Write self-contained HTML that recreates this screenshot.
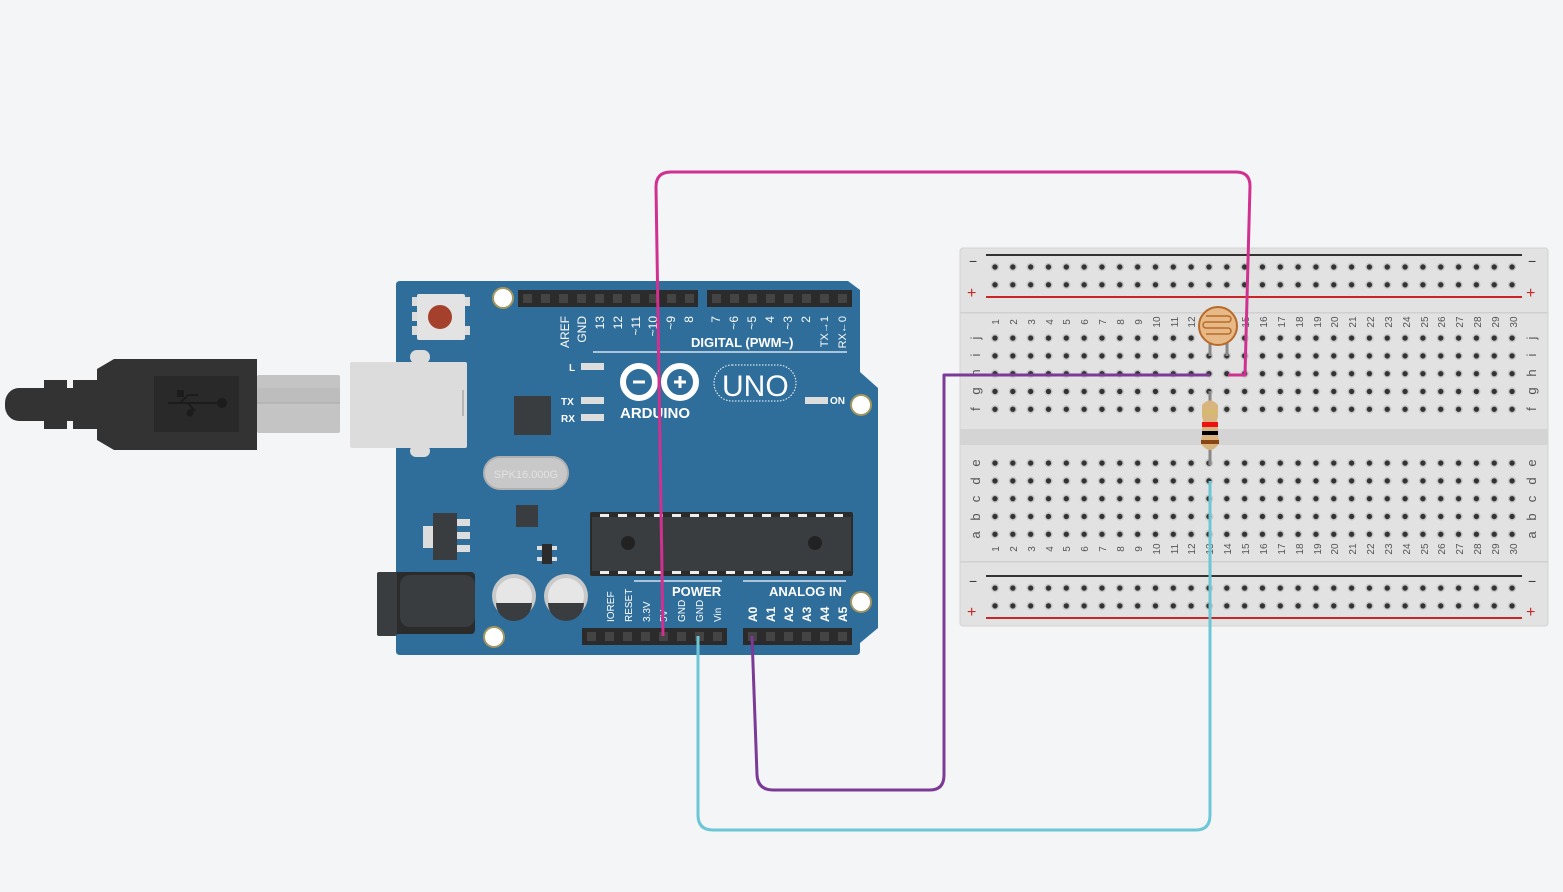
<!DOCTYPE html>
<html><head><meta charset="utf-8"><style>
html,body{margin:0;padding:0;background:#f4f5f7;}
svg{display:block;font-family:"Liberation Sans",sans-serif;}
</style></head><body>
<svg width="1563" height="892" viewBox="0 0 1563 892" xmlns="http://www.w3.org/2000/svg">
<defs>
<pattern id="h2" x="986.1" y="258.1" width="17.83" height="17.8" patternUnits="userSpaceOnUse"><circle cx="8.9" cy="8.9" r="4.2" fill="#c9c9c9"/><circle cx="8.9" cy="8.9" r="2.7" fill="#333"/></pattern>
<pattern id="h3" x="986.1" y="329.2" width="17.83" height="17.8" patternUnits="userSpaceOnUse"><circle cx="8.9" cy="8.9" r="4.2" fill="#c9c9c9"/><circle cx="8.9" cy="8.9" r="2.7" fill="#333"/></pattern>
<pattern id="h4" x="986.1" y="454.2" width="17.83" height="17.8" patternUnits="userSpaceOnUse"><circle cx="8.9" cy="8.9" r="4.2" fill="#c9c9c9"/><circle cx="8.9" cy="8.9" r="2.7" fill="#333"/></pattern>
<pattern id="h5" x="986.1" y="579.2" width="17.83" height="17.8" patternUnits="userSpaceOnUse"><circle cx="8.9" cy="8.9" r="4.2" fill="#c9c9c9"/><circle cx="8.9" cy="8.9" r="2.7" fill="#333"/></pattern>
</defs>
<rect width="1563" height="892" fill="#f4f5f7"/>

<!-- USB cable -->
<rect x="257" y="375" width="83" height="58" rx="2" fill="#c4c4c4"/>
<rect x="257" y="388" width="83" height="15" fill="#bdbdbd"/>
<line x1="257" y1="403" x2="340" y2="403" stroke="#aaa" stroke-width="1"/>
<path d="M5 403 a14 15 0 0 1 14 -15 h25 v-8 h23 v8 h6 v-8 h24 v-11 l17 -10 h143 v91 h-143 l-17 -10 v-11 h-24 v-8 h-6 v8 h-23 v-8 h-25 a14 15 0 0 1 -14 -16z" fill="#333"/>
<rect x="154" y="376" width="85" height="56" fill="#292929"/>
<g stroke="#1c1c1c" stroke-width="2" fill="none"><line x1="168" y1="403" x2="222" y2="403"/><path d="M180 403 l8 -8 h10"/><path d="M188 403 l6 7 h-4"/></g>
<circle cx="222" cy="403" r="5" fill="#1c1c1c"/><rect x="177" y="390" width="7" height="7" fill="#1c1c1c"/><circle cx="190" cy="413" r="3.5" fill="#1c1c1c"/>

<!-- Arduino board -->
<path d="M400 281 H848 L860 290 V372 L878 388 V628 L860 643 V651 Q860 655 856 655 H400 Q396 655 396 651 V285 Q396 281 400 281Z" fill="#2f6d9b"/>
<rect x="350" y="362" width="117" height="86" rx="2" fill="#dcdcdc"/>
<rect x="410" y="350" width="20" height="14" rx="7" fill="#dcdcdc"/><rect x="410" y="445" width="20" height="12" rx="6" fill="#dcdcdc"/>
<line x1="463" y1="390" x2="463" y2="416" stroke="#aaa" stroke-width="1.5"/>
<rect x="417" y="294" width="48" height="46" rx="2" fill="#e3e3e3"/>
<rect x="412" y="297" width="5" height="9" fill="#dcdcdc"/><rect x="412" y="312" width="5" height="9" fill="#dcdcdc"/><rect x="412" y="326" width="5" height="9" fill="#dcdcdc"/>
<rect x="465" y="297" width="5" height="9" fill="#dcdcdc"/><rect x="465" y="326" width="5" height="9" fill="#dcdcdc"/>
<circle cx="440" cy="317" r="12" fill="#a4402b"/>
<g fill="#fff" stroke="#a49660" stroke-width="2"><circle cx="503" cy="298" r="10"/><circle cx="861" cy="405" r="10"/><circle cx="861" cy="602" r="10"/><circle cx="494" cy="637" r="10"/></g>
<g fill="#2b2b2b"><rect x="518" y="290" width="180" height="17"/><rect x="707" y="290" width="145" height="17"/><rect x="582" y="628" width="145" height="17"/><rect x="743" y="628" width="109" height="17"/></g>
<g fill="#444">
<rect x="523" y="294" width="9" height="9"/><rect x="541" y="294" width="9" height="9"/><rect x="559" y="294" width="9" height="9"/><rect x="577" y="294" width="9" height="9"/><rect x="595" y="294" width="9" height="9"/><rect x="613" y="294" width="9" height="9"/><rect x="631" y="294" width="9" height="9"/><rect x="649" y="294" width="9" height="9"/><rect x="667" y="294" width="9" height="9"/><rect x="685" y="294" width="9" height="9"/>
<rect x="712" y="294" width="9" height="9"/><rect x="730" y="294" width="9" height="9"/><rect x="748" y="294" width="9" height="9"/><rect x="766" y="294" width="9" height="9"/><rect x="784" y="294" width="9" height="9"/><rect x="802" y="294" width="9" height="9"/><rect x="820" y="294" width="9" height="9"/><rect x="838" y="294" width="9" height="9"/>
<rect x="587" y="632" width="9" height="9"/><rect x="605" y="632" width="9" height="9"/><rect x="623" y="632" width="9" height="9"/><rect x="641" y="632" width="9" height="9"/><rect x="659" y="632" width="9" height="9"/><rect x="677" y="632" width="9" height="9"/><rect x="695" y="632" width="9" height="9"/><rect x="713" y="632" width="9" height="9"/>
<rect x="748" y="632" width="9" height="9"/><rect x="766" y="632" width="9" height="9"/><rect x="784" y="632" width="9" height="9"/><rect x="802" y="632" width="9" height="9"/><rect x="820" y="632" width="9" height="9"/><rect x="838" y="632" width="9" height="9"/>
</g>
<g fill="#fff" font-size="12" text-anchor="end">
<text transform="translate(569,316) rotate(-90)">AREF</text><text transform="translate(586,316) rotate(-90)">GND</text><text transform="translate(604,316) rotate(-90)">13</text><text transform="translate(622,316) rotate(-90)">12</text><text transform="translate(640,316) rotate(-90)">~11</text><text transform="translate(657,316) rotate(-90)">~10</text><text transform="translate(675,316) rotate(-90)">~9</text><text transform="translate(693,316) rotate(-90)">8</text>
<text transform="translate(720,316) rotate(-90)">7</text><text transform="translate(738,316) rotate(-90)">~6</text><text transform="translate(756,316) rotate(-90)">~5</text><text transform="translate(774,316) rotate(-90)">4</text><text transform="translate(792,316) rotate(-90)">~3</text><text transform="translate(810,316) rotate(-90)">2</text><text transform="translate(828,316) rotate(-90)" font-size="11">TX→1</text><text transform="translate(846,316) rotate(-90)" font-size="11">RX←0</text>
</g>
<g fill="#fff" font-size="10">
<text transform="translate(614,622) rotate(-90)">IOREF</text><text transform="translate(632,622) rotate(-90)">RESET</text><text transform="translate(650,622) rotate(-90)">3.3V</text><text transform="translate(667,622) rotate(-90)">5V</text><text transform="translate(685,622) rotate(-90)">GND</text><text transform="translate(703,622) rotate(-90)">GND</text><text transform="translate(721,622) rotate(-90)">Vin</text>
</g>
<g fill="#fff" font-size="12" font-weight="bold">
<text transform="translate(757,622) rotate(-90)">A0</text><text transform="translate(775,622) rotate(-90)">A1</text><text transform="translate(793,622) rotate(-90)">A2</text><text transform="translate(811,622) rotate(-90)">A3</text><text transform="translate(829,622) rotate(-90)">A4</text><text transform="translate(847,622) rotate(-90)">A5</text>
</g>
<g fill="#fff" font-weight="bold" font-size="13">
<text x="691" y="347">DIGITAL (PWM~)</text>
<text x="672" y="596">POWER</text>
<text x="769" y="596">ANALOG IN</text>
<text x="620" y="418" font-size="15">ARDUINO</text>
</g>
<g stroke="#fff" stroke-width="1.5" opacity="0.8"><line x1="593" y1="352" x2="847" y2="352"/><line x1="634" y1="581" x2="722" y2="581"/><line x1="743" y1="581" x2="846" y2="581"/></g>
<g fill="none" stroke="#fff" stroke-width="6"><circle cx="639" cy="382" r="16"/><circle cx="680" cy="382" r="16"/></g>
<g stroke="#fff" stroke-width="3"><line x1="633" y1="382" x2="645" y2="382"/><line x1="674" y1="382" x2="686" y2="382"/><line x1="680" y1="376" x2="680" y2="388"/></g>
<rect x="714" y="365" width="82" height="36" rx="18" fill="none" stroke="#fff" stroke-width="1" stroke-dasharray="1.5 1.5"/>
<text x="722" y="396" fill="#fff" font-size="30">UNO</text>
<g><rect x="581" y="363" width="23" height="7" fill="#ddd"/><rect x="581" y="397" width="23" height="7" fill="#ddd"/><rect x="581" y="414" width="23" height="7" fill="#ddd"/><rect x="805" y="397" width="23" height="7" fill="#ddd"/></g>
<g fill="#fff" font-size="10" font-weight="bold"><text x="569" y="371">L</text><text x="561" y="405">TX</text><text x="561" y="422">RX</text><text x="830" y="404">ON</text></g>
<rect x="514" y="396" width="37" height="39" fill="#3a3d40"/>
<rect x="484" y="457" width="84" height="32" rx="16" fill="#c8c8c8" stroke="#b0b0b0" stroke-width="2"/>
<text x="526" y="478" fill="#e2e2e2" font-size="11" text-anchor="middle">SPK16.000G</text>
<rect x="516" y="505" width="22" height="22" fill="#3a3d40"/>
<rect x="590" y="512" width="263" height="64" rx="2" fill="#2b2b2b"/>
<rect x="592" y="517" width="259" height="54" fill="#3a3d40"/>
<circle cx="628" cy="543" r="7" fill="#222"/><circle cx="815" cy="543" r="7" fill="#222"/>
<g fill="#eee">
<rect x="600" y="514" width="9" height="3"/><rect x="618" y="514" width="9" height="3"/><rect x="636" y="514" width="9" height="3"/><rect x="654" y="514" width="9" height="3"/><rect x="672" y="514" width="9" height="3"/><rect x="690" y="514" width="9" height="3"/><rect x="708" y="514" width="9" height="3"/><rect x="726" y="514" width="9" height="3"/><rect x="744" y="514" width="9" height="3"/><rect x="762" y="514" width="9" height="3"/><rect x="780" y="514" width="9" height="3"/><rect x="798" y="514" width="9" height="3"/><rect x="816" y="514" width="9" height="3"/><rect x="834" y="514" width="9" height="3"/>
<rect x="600" y="571" width="9" height="3"/><rect x="618" y="571" width="9" height="3"/><rect x="636" y="571" width="9" height="3"/><rect x="654" y="571" width="9" height="3"/><rect x="672" y="571" width="9" height="3"/><rect x="690" y="571" width="9" height="3"/><rect x="708" y="571" width="9" height="3"/><rect x="726" y="571" width="9" height="3"/><rect x="744" y="571" width="9" height="3"/><rect x="762" y="571" width="9" height="3"/><rect x="780" y="571" width="9" height="3"/><rect x="798" y="571" width="9" height="3"/><rect x="816" y="571" width="9" height="3"/><rect x="834" y="571" width="9" height="3"/>
</g>
<rect x="423" y="526" width="12" height="22" fill="#ddd"/>
<rect x="433" y="513" width="24" height="47" fill="#3a3d40"/>
<g fill="#ddd"><rect x="457" y="519" width="13" height="7"/><rect x="457" y="532" width="13" height="7"/><rect x="457" y="545" width="13" height="7"/></g>
<rect x="542" y="544" width="10" height="20" fill="#2b2b2b"/>
<g fill="#ddd"><rect x="537" y="546" width="5" height="4"/><rect x="537" y="557" width="5" height="4"/><rect x="552" y="546" width="5" height="4"/><rect x="552" y="557" width="5" height="4"/></g>
<g><circle cx="514" cy="596" r="22" fill="#c9c9c9"/><circle cx="514" cy="596" r="18" fill="#e6e6e6"/><path d="M496 603 h36 a18 18 0 0 1 -36 0z" fill="#3a3d40"/>
<circle cx="566" cy="596" r="22" fill="#c9c9c9"/><circle cx="566" cy="596" r="18" fill="#e6e6e6"/><path d="M548 603 h36 a18 18 0 0 1 -36 0z" fill="#3a3d40"/></g>
<rect x="377" y="572" width="98" height="62" rx="4" fill="#2b2b2b"/>
<rect x="400" y="575" width="75" height="52" rx="10" fill="#3a3d40"/>
<rect x="377" y="572" width="20" height="64" rx="2" fill="#3a3d40"/>

<!-- Breadboard -->
<rect x="960" y="248" width="588" height="378" rx="3" fill="#e2e2e2" stroke="#d3d3d3"/>
<rect x="960" y="312" width="588" height="1.5" fill="#d0d0d0"/>
<rect x="960" y="561" width="588" height="1.5" fill="#d0d0d0"/>
<rect x="960" y="429" width="588" height="16" fill="#d4d4d4"/>
<line x1="986" y1="255" x2="1522" y2="255" stroke="#333" stroke-width="2"/>
<line x1="986" y1="297" x2="1522" y2="297" stroke="#c62828" stroke-width="2"/>
<line x1="986" y1="576" x2="1522" y2="576" stroke="#333" stroke-width="2"/>
<line x1="986" y1="618" x2="1522" y2="618" stroke="#c62828" stroke-width="2"/>
<rect x="986.1" y="258.1" width="535" height="35.6" fill="url(#h2)"/>
<rect x="986.1" y="329.2" width="535" height="89" fill="url(#h3)"/>
<rect x="986.1" y="454.2" width="535" height="89" fill="url(#h4)"/>
<rect x="986.1" y="579.2" width="535" height="35.6" fill="url(#h5)"/>
<g fill="#c62828" font-size="16"><text x="967" y="298">+</text><text x="1526" y="298">+</text><text x="967" y="617">+</text><text x="1526" y="617">+</text></g>
<g fill="#333" font-size="14"><text x="969" y="266">−</text><text x="1528" y="266">−</text><text x="969" y="586">−</text><text x="1528" y="586">−</text></g>
<g fill="#555" font-size="13" text-anchor="middle">
<text transform="translate(980,338) rotate(-90)">j</text><text transform="translate(980,355) rotate(-90)">i</text><text transform="translate(980,373) rotate(-90)">h</text><text transform="translate(980,391) rotate(-90)">g</text><text transform="translate(980,409) rotate(-90)">f</text>
<text transform="translate(980,463) rotate(-90)">e</text><text transform="translate(980,481) rotate(-90)">d</text><text transform="translate(980,499) rotate(-90)">c</text><text transform="translate(980,517) rotate(-90)">b</text><text transform="translate(980,535) rotate(-90)">a</text>
<text transform="translate(1536,338) rotate(-90)">j</text><text transform="translate(1536,355) rotate(-90)">i</text><text transform="translate(1536,373) rotate(-90)">h</text><text transform="translate(1536,391) rotate(-90)">g</text><text transform="translate(1536,409) rotate(-90)">f</text>
<text transform="translate(1536,463) rotate(-90)">e</text><text transform="translate(1536,481) rotate(-90)">d</text><text transform="translate(1536,499) rotate(-90)">c</text><text transform="translate(1536,517) rotate(-90)">b</text><text transform="translate(1536,535) rotate(-90)">a</text>
</g>
<g fill="#555" font-size="10" text-anchor="middle">
<text transform="translate(999,322) rotate(-90)">1</text><text transform="translate(1017,322) rotate(-90)">2</text><text transform="translate(1035,322) rotate(-90)">3</text><text transform="translate(1053,322) rotate(-90)">4</text><text transform="translate(1070,322) rotate(-90)">5</text><text transform="translate(1088,322) rotate(-90)">6</text><text transform="translate(1106,322) rotate(-90)">7</text><text transform="translate(1124,322) rotate(-90)">8</text><text transform="translate(1142,322) rotate(-90)">9</text><text transform="translate(1160,322) rotate(-90)">10</text><text transform="translate(1178,322) rotate(-90)">11</text><text transform="translate(1195,322) rotate(-90)">12</text><text transform="translate(1213,322) rotate(-90)">13</text><text transform="translate(1231,322) rotate(-90)">14</text><text transform="translate(1249,322) rotate(-90)">15</text><text transform="translate(1267,322) rotate(-90)">16</text><text transform="translate(1285,322) rotate(-90)">17</text><text transform="translate(1303,322) rotate(-90)">18</text><text transform="translate(1321,322) rotate(-90)">19</text><text transform="translate(1338,322) rotate(-90)">20</text><text transform="translate(1356,322) rotate(-90)">21</text><text transform="translate(1374,322) rotate(-90)">22</text><text transform="translate(1392,322) rotate(-90)">23</text><text transform="translate(1410,322) rotate(-90)">24</text><text transform="translate(1428,322) rotate(-90)">25</text><text transform="translate(1445,322) rotate(-90)">26</text><text transform="translate(1463,322) rotate(-90)">27</text><text transform="translate(1481,322) rotate(-90)">28</text><text transform="translate(1499,322) rotate(-90)">29</text><text transform="translate(1517,322) rotate(-90)">30</text>
<text transform="translate(999,549) rotate(-90)">1</text><text transform="translate(1017,549) rotate(-90)">2</text><text transform="translate(1035,549) rotate(-90)">3</text><text transform="translate(1053,549) rotate(-90)">4</text><text transform="translate(1070,549) rotate(-90)">5</text><text transform="translate(1088,549) rotate(-90)">6</text><text transform="translate(1106,549) rotate(-90)">7</text><text transform="translate(1124,549) rotate(-90)">8</text><text transform="translate(1142,549) rotate(-90)">9</text><text transform="translate(1160,549) rotate(-90)">10</text><text transform="translate(1178,549) rotate(-90)">11</text><text transform="translate(1195,549) rotate(-90)">12</text><text transform="translate(1213,549) rotate(-90)">13</text><text transform="translate(1231,549) rotate(-90)">14</text><text transform="translate(1249,549) rotate(-90)">15</text><text transform="translate(1267,549) rotate(-90)">16</text><text transform="translate(1285,549) rotate(-90)">17</text><text transform="translate(1303,549) rotate(-90)">18</text><text transform="translate(1321,549) rotate(-90)">19</text><text transform="translate(1338,549) rotate(-90)">20</text><text transform="translate(1356,549) rotate(-90)">21</text><text transform="translate(1374,549) rotate(-90)">22</text><text transform="translate(1392,549) rotate(-90)">23</text><text transform="translate(1410,549) rotate(-90)">24</text><text transform="translate(1428,549) rotate(-90)">25</text><text transform="translate(1445,549) rotate(-90)">26</text><text transform="translate(1463,549) rotate(-90)">27</text><text transform="translate(1481,549) rotate(-90)">28</text><text transform="translate(1499,549) rotate(-90)">29</text><text transform="translate(1517,549) rotate(-90)">30</text>
</g>

<!-- photoresistor -->
<line x1="1210" y1="338" x2="1210" y2="356" stroke="#888" stroke-width="3"/>
<line x1="1227" y1="338" x2="1227" y2="356" stroke="#888" stroke-width="3"/>
<circle cx="1218" cy="326" r="19" fill="#e6b986" stroke="#b86a2a" stroke-width="2"/>
<path d="M1206 316 h22 a3 3 0 0 1 0 6 h-22 a3 3 0 0 0 0 6 h22 a3 3 0 0 1 0 6 h-22" fill="none" stroke="#b86a2a" stroke-width="1.5"/>
<!-- resistor -->
<line x1="1210" y1="391" x2="1210" y2="465" stroke="#888" stroke-width="3"/>
<path d="M1202 405 q8 -9 16 0 v12 q-2 4 0 8 v12 q2 4 0 8 q-8 10 -16 0 q-2 -4 0 -8 v-12 q2 -4 0 -8z" fill="#d8b47e"/>
<rect x="1202" y="422" width="16" height="5" fill="#e11"/><rect x="1202" y="431" width="16" height="4" fill="#000"/><rect x="1201" y="440" width="18" height="4" fill="#8b4513"/>
<line x1="1203" y1="412" x2="1217" y2="412" stroke="#cc3" stroke-width="1"/>

<!-- wires -->
<g fill="none" stroke-width="3" stroke-linejoin="round">
<path d="M663 636 L656 187 Q656 172 671 172 H1236 Q1250 172 1250 186 L1245 375 H1228" stroke="#d0308f"/>
<path d="M752 636 L757 775 Q758 790 773 790 H930 Q944 790 944 775 V375 H1210" stroke="#7b3a96"/>
<path d="M698 636 V815 Q698 830 713 830 H1196 Q1210 830 1210 815 V481" stroke="#6cc6d6"/>
</g>
</svg>
</body></html>
